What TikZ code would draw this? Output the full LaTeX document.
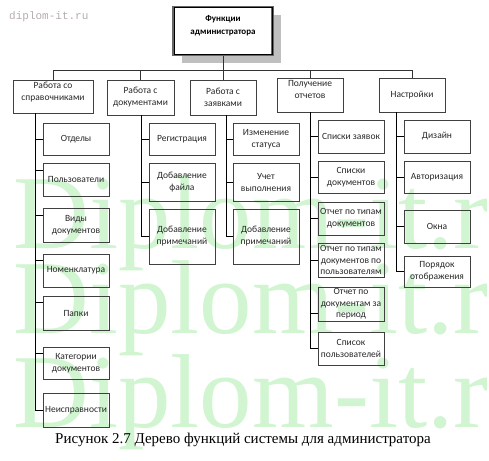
\documentclass[tikz,border=0pt]{standalone}
\usepackage{fontspec}
\setmainfont{Liberation Serif}
\newfontfamily\boxfont{Carlito}
\newfontfamily\wmmono{Liberation Mono}
\definecolor{wmgreen}{RGB}{208,245,208}
\definecolor{wmgray}{RGB}{182,172,172}
\begin{document}
\begin{tikzpicture}[x=1pt,y=-1pt,
  box/.style={draw=black!75, line width=0.8pt, inner sep=0pt, align=center,
    minimum width=66pt, font=\boxfont\fontsize{9.5}{12}\selectfont, text=black!85},
  lbl/.style={inner sep=0pt, align=center, font=\boxfont\fontsize{9.5}{12}\selectfont, text=black!85},
  conn/.style={draw=black!80, line width=0.8pt},
  spine/.style={draw=black, line width=0.9pt}]
\useasboundingbox (0,0) rectangle (489,460);
% watermark
\begin{scope}
\clip (0,0) rectangle (489,460);
\foreach \yy in {248,333,427}
  \node[anchor=base west, inner sep=0pt, text=wmgreen, font=\fontsize{105}{105}\selectfont] at (13,\yy) {Diplom-it.ru};
\end{scope}
\node[anchor=base west, inner sep=0pt, text=wmgray, font=\wmmono\fontsize{11}{11}\selectfont] (wm) at (9,20) {diplom-it.ru};
% top
\fill[black!25] (181.5,15) rectangle (280.5,63);
\node[draw=black!60, line width=2.4pt, fill=white, minimum width=99pt, minimum height=48pt, inner sep=0pt] (top) at (223,31) {};
\draw[black, line width=0.7pt] ([shift={(1.7pt,-1.7pt)}]top.north west) rectangle ([shift={(-1.7pt,1.7pt)}]top.south east);
\node[inner sep=0pt, align=center, font=\boxfont\bfseries\fontsize{9}{13}\selectfont] (toplbl) at (223,25.5) {Функции\\администратора};
% level 1
\node[box, minimum width=80pt, minimum height=33pt] (a1) at (53,96.5) {};
\node[lbl] (a1l) at (53,92.5) {Работа со\\справочниками};
\node[box, minimum width=67pt, minimum height=35pt] (a2) at (140.5,97.5) {Работа с\\документами};
\node[box, minimum width=66pt, minimum height=35pt] (a3) at (223,97.5) {Работа с\\заявками};
\node[box, minimum width=66pt, minimum height=34pt] (a4) at (310,95) {};
\node[lbl] (a4l) at (310,89) {Получение\\отчетов};
\node[box, minimum width=66pt, minimum height=34pt] (a5) at (412,95) {Настройки};
\coordinate (bus) at (0,70);
\draw[conn] (top.south) -- (top.south |- bus);
\draw[conn] (a1.north) |- (a5.north |- bus) -- (a5.north);
\foreach \a in {a2,a3,a4} \draw[conn] (\a.north) -- (\a.north |- bus);
% column 1
\node[box, minimum height=32pt] (c11) at (76,139) {Отделы};
\node[box, minimum height=33pt] (c12) at (76,179.5) {Пользователи};
\node[box, minimum height=34pt] (c13) at (76,225) {Виды\\документов};
\node[box, minimum height=33pt] (c14) at (76,270.5) {Номенклатура};
\node[box, minimum height=34pt] (c15) at (76,313) {Папки};
\node[box, minimum height=32pt] (c16) at (76,363) {Категории\\документов};
\node[box, minimum height=34pt] (c17) at (76,410) {Неисправности};
\coordinate (s1) at (35,0);
\draw[spine] (a1.south -| s1) |- (c11.west);
\draw[spine] (a1.south -| s1) |- ([yshift=9.5pt]c12.west);
\draw[spine] (a1.south -| s1) |- ([yshift=10pt]c13.west);
\draw[spine] (a1.south -| s1) |- ([yshift=10.5pt]c14.west);
\draw[spine] (a1.south -| s1) |- ([yshift=11pt]c15.west);
\draw[spine] (a1.south -| s1) |- ([yshift=10pt]c16.west);
\draw[spine] (a1.south -| s1) |- (c17.west);
% column 2
\node[box, minimum height=32pt] (c21) at (182,139) {Регистрация};
\node[box, minimum height=38pt] (c22) at (182,182) {Добавление\\файла};
\node[box, minimum height=55pt] (c23) at (182,236.5) {Добавление\\примечаний};
\coordinate (s2) at (141,0);
\foreach \c in {c21,c22,c23} \draw[spine] (a2.south -| s2) |- (\c.west);
% column 3
\node[box, minimum height=32pt] (c31) at (266,139) {Изменение\\статуса};
\node[box, minimum height=38pt] (c32) at (266,182) {Учет\\выполнения};
\node[box, minimum height=55pt] (c33) at (266,236.5) {Добавление\\примечаний};
\coordinate (s3) at (226,0);
\foreach \c in {c31,c32,c33} \draw[spine] (a3.south -| s3) |- (\c.west);
% column 4
\node[box, minimum height=33pt] (c41) at (351,136.5) {Списки заявок};
\node[box, minimum height=32pt] (c42) at (351,177) {Списки\\документов};
\node[box, minimum height=33pt] (c43) at (351,218.5) {Отчет по типам\\документов};
\node[box, minimum height=34pt, font=\boxfont\fontsize{9.5}{11.5}\selectfont] (c44) at (351,260) {Отчет по типам\\документов по\\пользователям};
\node[box, minimum height=34pt, font=\boxfont\fontsize{9.5}{11.5}\selectfont] (c45) at (351,304) {Отчет по\\документам за\\период};
\node[box, minimum height=33pt] (c46) at (351,348.5) {Список\\пользователей};
\coordinate (s4) at (310,0);
\foreach \c in {c41,c42,c43,c44,c46} \draw[spine] (a4.south -| s4) |- (\c.west);
\draw[spine] (a4.south -| s4) |- ([yshift=-9pt]c45.west);
% column 5
\node[box, minimum height=33pt] (c51) at (437,136.5) {Дизайн};
\node[box, minimum height=32pt] (c52) at (437,177) {Авторизация};
\node[box, minimum height=33pt] (c53) at (437,226.5) {Окна};
\node[box, minimum height=31pt] (c54) at (437,271.5) {Порядок\\отображения};
\coordinate (s5) at (396,0);
\foreach \c in {c51,c52,c53,c54} \draw[spine] (a5.south -| s5) |- (\c.west);
% caption
\node[anchor=base, inner sep=0pt, font=\fontsize{15}{16}\selectfont] (cap) at (243,443) {Рисунок 2.7 Дерево функций системы для администратора};
\end{tikzpicture}
\end{document}
